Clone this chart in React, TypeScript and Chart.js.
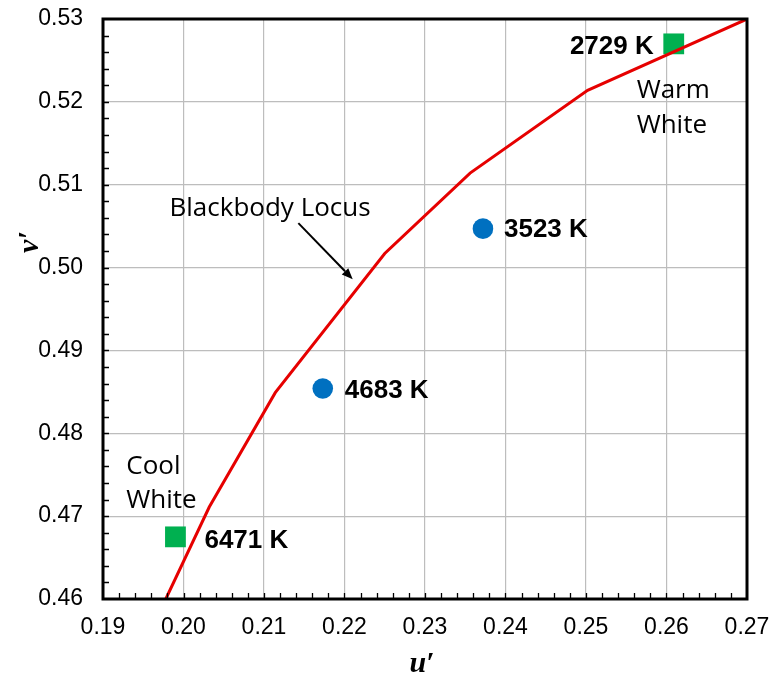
import React, { useEffect, useRef } from "react";
import { Chart, registerables } from "chart.js";

Chart.register(...registerables);

// Blackbody locus (u', v')
const locusU = [0.1978, 0.2032, 0.2114, 0.2250, 0.2356, 0.2502, 0.2700];
const locusV = [0.4600, 0.4711, 0.4849, 0.5017, 0.5114, 0.5214, 0.5300];

// Green squares (cool / warm white)
const squareU = [0.1990, 0.2609];
const squareV = [0.4675, 0.5270];
const squareLabels = ["6471 K", "2729 K"];

// Blue circles
const circleU = [0.2372, 0.2173];
const circleV = [0.5047, 0.4854];
const circleLabels = ["3523 K", "4683 K"];

// Axis ranges / ticks
const xMin = 0.19, xMax = 0.27, xStep = 0.01;
const yMin = 0.46, yMax = 0.53, yStep = 0.01;
const minorStep = 0.002;

// Text callouts (anchor in data coords)
const coolText = ["Cool", "White"];
const coolAnchor = { u: 0.19289, v: 0.47508 };
const warmText = ["Warm", "White"];
const warmAnchor = { u: 0.25629, v: 0.52043 };
const locusText = "Blackbody Locus";
const locusTextAnchor = { u: 0.19826, v: 0.50627 };
const arrowFrom = { u: 0.21427, v: 0.50536 };
const arrowTo = { u: 0.22102, v: 0.4986 };

const xTitle = "u\u2032";
const yTitle = "v\u2032";

function zeroPad(s: any) {
  s.paddingTop = 0;
  s.paddingBottom = 0;
  s.paddingLeft = 0;
  s.paddingRight = 0;
}

export default function App() {
  const ref = useRef<HTMLCanvasElement | null>(null);

  useEffect(() => {
    const canvas = ref.current;
    if (!canvas) return;

    const overlay = {
      id: "overlay",
      afterDraw(chart: any) {
        const ctx = chart.ctx as CanvasRenderingContext2D;
        const xs = chart.scales.x;
        const ys = chart.scales.y;
        const { left, right, top, bottom } = chart.chartArea;
        const px = (u: number) => xs.getPixelForValue(u);
        const py = (v: number) => ys.getPixelForValue(v);
        ctx.save();

        // minor ticks (inward)
        ctx.strokeStyle = "#000";
        ctx.lineWidth = 1.3;
        ctx.beginPath();
        const ny = Math.round((yMax - yMin) / minorStep);
        for (let i = 1; i < ny; i++) {
          const y = Math.round(py(yMin + i * minorStep)) + 0.5;
          ctx.moveTo(left, y);
          ctx.lineTo(left + 6, y);
        }
        const nx = Math.round((xMax - xMin) / minorStep);
        for (let i = 1; i < nx; i++) {
          const x = Math.round(px(xMin + i * minorStep)) + 0.5;
          ctx.moveTo(x, bottom);
          ctx.lineTo(x, bottom - 6);
        }
        ctx.stroke();

        // frame
        ctx.lineWidth = 3;
        ctx.strokeRect(left, top, right - left, bottom - top);

        // marker labels
        ctx.fillStyle = "#000";
        ctx.font = "bold 26px 'Liberation Sans', Arial, sans-serif";
        ctx.textBaseline = "alphabetic";
        ctx.textAlign = "left";
        ctx.fillText(squareLabels[0], px(squareU[0]) + 29, py(squareV[0]) + 11);
        ctx.textAlign = "right";
        ctx.fillText(squareLabels[1], px(squareU[1]) - 20, py(squareV[1]) + 10);
        ctx.textAlign = "left";
        ctx.fillText(circleLabels[0], px(circleU[0]) + 21, py(circleV[0]) + 8.5);
        ctx.fillText(circleLabels[1], px(circleU[1]) + 22, py(circleV[1]) + 9.3);

        // callouts
        ctx.font = "26px 'Open Sans', sans-serif";
        ctx.textAlign = "left";
        coolText.forEach((t, i) => ctx.fillText(t, px(coolAnchor.u), py(coolAnchor.v) + i * 34));
        warmText.forEach((t, i) => ctx.fillText(t, px(warmAnchor.u), py(warmAnchor.v) + i * 35));
        ctx.fillText(locusText, px(locusTextAnchor.u), py(locusTextAnchor.v));

        // arrow
        const x1 = px(arrowFrom.u), y1 = py(arrowFrom.v);
        const x2 = px(arrowTo.u), y2 = py(arrowTo.v);
        const ang = Math.atan2(y2 - y1, x2 - x1);
        const hl = 11, hw = 4.5;
        const bx = x2 - hl * Math.cos(ang), by = y2 - hl * Math.sin(ang);
        ctx.strokeStyle = "#000";
        ctx.lineWidth = 2;
        ctx.beginPath();
        ctx.moveTo(x1, y1);
        ctx.lineTo(bx, by);
        ctx.stroke();
        ctx.beginPath();
        ctx.moveTo(x2, y2);
        ctx.lineTo(bx + hw * Math.sin(ang), by - hw * Math.cos(ang));
        ctx.lineTo(bx - hw * Math.sin(ang), by + hw * Math.cos(ang));
        ctx.closePath();
        ctx.fillStyle = "#000";
        ctx.fill();

        // axis titles
        ctx.font = "italic bold 30px 'Liberation Serif', 'Times New Roman', serif";
        ctx.fillStyle = "#000";
        ctx.textAlign = "center";
        ctx.textBaseline = "alphabetic";
        ctx.fillText(xTitle, (left + right) / 2 - 3, 672);
        ctx.save();
        ctx.translate(38, 242);
        ctx.rotate(-Math.PI / 2);
        ctx.fillText(yTitle, 0, 0);
        ctx.restore();

        ctx.restore();
      },
    };

    const tickFont = { family: "'Liberation Sans', Arial, sans-serif", size: 23 };

    const chart = new Chart(canvas, {
      type: "scatter",
      data: {
        datasets: [
          {
            label: "Blackbody Locus",
            data: locusU.map((u, i) => ({ x: u, y: locusV[i] })),
            showLine: true,
            borderColor: "#e60000",
            borderWidth: 3,
            pointRadius: 0,
            fill: false,
            tension: 0,
          },
          {
            label: "Squares",
            data: squareU.map((u, i) => ({ x: u, y: squareV[i] })),
            pointStyle: "rect",
            pointRadius: 14.7,
            backgroundColor: "#00b050",
            borderWidth: 0,
          },
          {
            label: "Circles",
            data: circleU.map((u, i) => ({ x: u, y: circleV[i] })),
            pointStyle: "circle",
            pointRadius: 10.3,
            backgroundColor: "#0070c0",
            borderWidth: 0,
          },
        ],
      },
      options: {
        animation: false,
        responsive: false,
        maintainAspectRatio: false,
        layout: { padding: { top: 19, right: 24, left: 0, bottom: 0 } },
        plugins: { legend: { display: false }, tooltip: { enabled: false } },
        scales: {
          x: {
            type: "linear",
            min: xMin,
            max: xMax,
            afterFit: (s: any) => { s.height = 76; zeroPad(s); },
            afterBuildTicks: (s: any) => {
              const t = [];
              for (let i = 0; i <= Math.round((xMax - xMin) / xStep); i++) t.push({ value: +(xMin + i * xStep).toFixed(2) });
              s.ticks = t;
            },
            ticks: {
              color: "#000",
              font: tickFont,
              padding: 15,
              maxRotation: 0,
              callback: (v: any) => Number(v).toFixed(2),
            },
            grid: { color: "#bdbdbd", lineWidth: 1.2, drawTicks: false },
            border: { display: false },
          },
          y: {
            type: "linear",
            min: yMin,
            max: yMax,
            afterFit: (s: any) => { s.width = 103; zeroPad(s); },
            afterBuildTicks: (s: any) => {
              const t = [];
              for (let i = 0; i <= Math.round((yMax - yMin) / yStep); i++) t.push({ value: +(yMin + i * yStep).toFixed(2) });
              s.ticks = t;
            },
            ticks: {
              color: "#000",
              font: tickFont,
              padding: 20,
              callback: (v: any) => Number(v).toFixed(2),
            },
            grid: { color: "#bdbdbd", lineWidth: 1.2, drawTicks: false },
            border: { display: false },
          },
        },
      },
      plugins: [overlay],
    });

    return () => chart.destroy();
  }, []);

  return (
    <div style={{ position: "fixed", left: 0, top: 0, width: 771, height: 675, background: "#fff" }}>
      <canvas ref={ref} width={771} height={675} style={{ width: 771, height: 675, display: "block" }} />
    </div>
  );
}
